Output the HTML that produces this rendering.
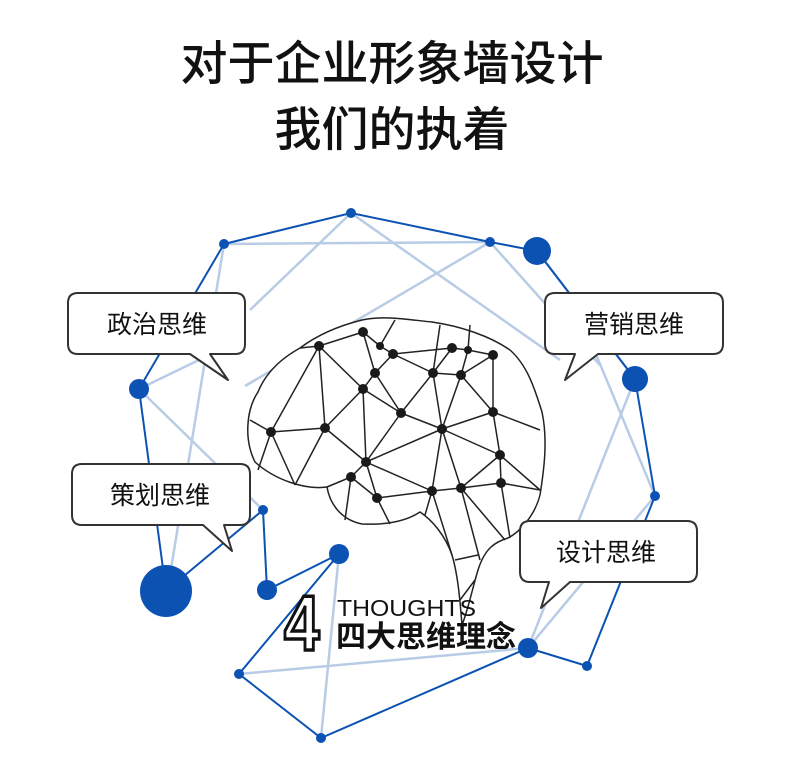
<!DOCTYPE html>
<html><head><meta charset="utf-8"><style>
html,body{margin:0;padding:0;background:#fff;}
body{width:790px;height:761px;overflow:hidden;position:relative;font-family:"Liberation Sans","Noto Sans CJK SC",sans-serif;}
svg{position:absolute;left:0;top:0;}
</style></head><body>
<svg width="790" height="761" viewBox="0 0 790 761" xmlns="http://www.w3.org/2000/svg">
<text x="392" y="80" font-size="47" font-weight="500" text-anchor="middle" font-family="'Noto Sans CJK SC',sans-serif" fill="#111">对于企业形象墙设计</text>
<text x="392" y="146" font-size="47" font-weight="500" text-anchor="middle" font-family="'Noto Sans CJK SC',sans-serif" fill="#111">我们的执着</text>

<g stroke="#b8cce6" stroke-width="2.5" fill="none">
<line x1="351" y1="213" x2="250" y2="310"/>
<line x1="351" y1="213" x2="560" y2="360"/>
<line x1="224" y1="244" x2="490" y2="242"/>
<line x1="490" y1="242" x2="245" y2="386"/>
<line x1="224" y1="244" x2="170" y2="575"/>
<line x1="139" y1="389" x2="230" y2="345"/>
<line x1="139" y1="389" x2="263" y2="510"/>
<line x1="490" y1="242" x2="600" y2="365"/>
<line x1="537" y1="251" x2="635" y2="379"/>
<line x1="635" y1="379" x2="528" y2="648"/>
<line x1="590" y1="340" x2="655" y2="496"/>
<line x1="655" y1="496" x2="528" y2="648"/>
<line x1="528" y1="648" x2="239" y2="674"/>
<line x1="339" y1="554" x2="321" y2="738"/>
</g>
<g stroke="#0b52b3" stroke-width="2" fill="none">
<polyline points="224,244 351,213 490,242 537,251 635,379 655,496 587,666 528,648 321,738 239,674 339,554 267,590 263,510 166,591 139,389 224,244"/>
</g>
<g fill="#0b52b3">
<circle cx="351" cy="213" r="5"/><circle cx="224" cy="244" r="5"/><circle cx="490" cy="242" r="5"/>
<circle cx="537" cy="251" r="14"/><circle cx="139" cy="389" r="10"/><circle cx="635" cy="379" r="13"/>
<circle cx="655" cy="496" r="5"/><circle cx="263" cy="510" r="5"/><circle cx="166" cy="591" r="26"/>
<circle cx="267" cy="590" r="10"/><circle cx="339" cy="554" r="10"/><circle cx="528" cy="648" r="10"/>
<circle cx="587" cy="666" r="5"/><circle cx="239" cy="674" r="5"/><circle cx="321" cy="738" r="5"/>
</g>

<g stroke="#222" stroke-width="1.5" fill="none" stroke-linejoin="round">
<path fill="#fff" d="M255,462 C244,440 246,410 258,392 C266,372 282,358 300,348 C316,336 338,326 362,320 C385,315 410,320 432,322 C460,326 490,336 510,350 C528,366 535,390 542,412 C548,440 544,470 540,495 C535,515 520,532 508,538 C495,542 485,548 478,570 C472,590 468,610 462,625 C460,600 458,575 452,555 C445,535 432,520 420,512 C405,522 385,525 362,524 C342,520 330,505 327,487 C305,490 275,480 255,462 Z"/>
<g>
<line x1="363" y1="332" x2="319" y2="346"/><line x1="363" y1="332" x2="380" y2="346"/><line x1="380" y1="346" x2="393" y2="354"/>
<line x1="393" y1="354" x2="452" y2="348"/><line x1="452" y1="348" x2="468" y2="350"/><line x1="468" y1="350" x2="493" y2="355"/>
<line x1="363" y1="332" x2="375" y2="373"/><line x1="393" y1="354" x2="375" y2="373"/><line x1="375" y1="373" x2="363" y2="389"/>
<line x1="319" y1="346" x2="363" y2="389"/><line x1="319" y1="346" x2="325" y2="428"/><line x1="319" y1="346" x2="271" y2="432"/>
<line x1="452" y1="348" x2="433" y2="373"/><line x1="433" y1="373" x2="461" y2="375"/><line x1="468" y1="350" x2="461" y2="375"/>
<line x1="493" y1="355" x2="461" y2="375"/><line x1="493" y1="355" x2="493" y2="412"/><line x1="393" y1="354" x2="433" y2="373"/>
<line x1="375" y1="373" x2="401" y2="413"/><line x1="363" y1="389" x2="401" y2="413"/><line x1="433" y1="373" x2="401" y2="413"/>
<line x1="401" y1="413" x2="442" y2="429"/><line x1="433" y1="373" x2="442" y2="429"/><line x1="461" y1="375" x2="442" y2="429"/>
<line x1="461" y1="375" x2="493" y2="412"/><line x1="442" y1="429" x2="493" y2="412"/><line x1="493" y1="412" x2="540" y2="430"/>
<line x1="271" y1="432" x2="325" y2="428"/><line x1="363" y1="389" x2="325" y2="428"/><line x1="363" y1="389" x2="366" y2="462"/>
<line x1="325" y1="428" x2="366" y2="462"/><line x1="401" y1="413" x2="366" y2="462"/><line x1="442" y1="429" x2="366" y2="462"/>
<line x1="442" y1="429" x2="500" y2="455"/><line x1="493" y1="412" x2="500" y2="455"/><line x1="442" y1="429" x2="432" y2="491"/>
<line x1="442" y1="429" x2="461" y2="488"/><line x1="366" y1="462" x2="432" y2="491"/><line x1="366" y1="462" x2="351" y2="477"/>
<line x1="366" y1="462" x2="377" y2="498"/><line x1="351" y1="477" x2="377" y2="498"/><line x1="377" y1="498" x2="432" y2="491"/>
<line x1="432" y1="491" x2="461" y2="488"/><line x1="461" y1="488" x2="501" y2="483"/><line x1="500" y1="455" x2="501" y2="483"/>
<line x1="500" y1="455" x2="461" y2="488"/><line x1="500" y1="455" x2="540" y2="490"/><line x1="501" y1="483" x2="540" y2="490"/>
<line x1="271" y1="432" x2="258" y2="470"/><line x1="271" y1="432" x2="295" y2="485"/><line x1="325" y1="428" x2="295" y2="485"/>
<line x1="271" y1="432" x2="250" y2="420"/><line x1="351" y1="477" x2="327" y2="487"/><line x1="351" y1="477" x2="345" y2="520"/>
<line x1="377" y1="498" x2="390" y2="524"/><line x1="432" y1="491" x2="425" y2="515"/><line x1="432" y1="491" x2="452" y2="555"/>
<line x1="461" y1="488" x2="480" y2="560"/><line x1="501" y1="483" x2="510" y2="538"/><line x1="461" y1="488" x2="505" y2="540"/>
<line x1="455" y1="560" x2="478" y2="555"/><line x1="460" y1="600" x2="475" y2="580"/><line x1="319" y1="346" x2="300" y2="348"/>
<line x1="468" y1="350" x2="470" y2="325"/><line x1="380" y1="346" x2="395" y2="320"/><line x1="433" y1="373" x2="440" y2="325"/>
</g>
</g>
<g fill="#1a1a1a">
<circle cx="363" cy="332" r="5"/><circle cx="319" cy="346" r="5"/><circle cx="380" cy="346" r="4"/><circle cx="393" cy="354" r="5"/>
<circle cx="452" cy="348" r="5"/><circle cx="468" cy="350" r="4"/><circle cx="493" cy="355" r="5"/><circle cx="375" cy="373" r="5"/>
<circle cx="433" cy="373" r="5"/><circle cx="461" cy="375" r="5"/><circle cx="363" cy="389" r="5"/><circle cx="401" cy="413" r="5"/>
<circle cx="493" cy="412" r="5"/><circle cx="271" cy="432" r="5"/><circle cx="325" cy="428" r="5"/><circle cx="442" cy="429" r="5"/>
<circle cx="500" cy="455" r="5"/><circle cx="366" cy="462" r="5"/><circle cx="351" cy="477" r="5"/><circle cx="501" cy="483" r="5"/>
<circle cx="432" cy="491" r="5"/><circle cx="461" cy="488" r="5"/><circle cx="377" cy="498" r="5"/>
</g>

<g fill="#fff" stroke="#333" stroke-width="2" stroke-linejoin="round">
<path d="M78,293 H235 Q245,293 245,303 V344 Q245,354 235,354 H210 L228,380 L190,354 H78 Q68,354 68,344 V303 Q68,293 78,293 Z"/>
<path d="M555,293 H713 Q723,293 723,303 V344 Q723,354 713,354 H598 L565,380 L575,354 H555 Q545,354 545,344 V303 Q545,293 555,293 Z"/>
<path d="M82,464 H240 Q250,464 250,474 V515 Q250,525 240,525 H224 L232,551 L203,525 H82 Q72,525 72,515 V474 Q72,464 82,464 Z"/>
<path d="M530,521 H687 Q697,521 697,531 V572 Q697,582 687,582 H570 L541,608 L549,582 H530 Q520,582 520,572 V531 Q520,521 530,521 Z"/>
</g>
<g font-size="25" fill="#111" text-anchor="middle" font-family="'Noto Sans CJK SC',sans-serif">
<text x="157" y="333">政治思维</text>
<text x="634" y="333">营销思维</text>
<text x="160" y="504">策划思维</text>
<text x="606" y="561">设计思维</text>
</g>

<text x="284" y="650" font-size="78" font-weight="bold" font-family="'Liberation Sans',sans-serif" fill="#fff" stroke="#111" stroke-width="3.5" transform="translate(284 0) scale(0.82 1) translate(-284 0)">4</text>
<text x="337" y="616" font-size="23" font-family="'Liberation Sans',sans-serif" fill="#111" textLength="139" lengthAdjust="spacingAndGlyphs">THOUGHTS</text>
<text x="336" y="647" font-size="30" font-weight="bold" font-family="'Noto Sans CJK SC',sans-serif" fill="#111">四大思维理念</text>
</svg>
</body></html>
